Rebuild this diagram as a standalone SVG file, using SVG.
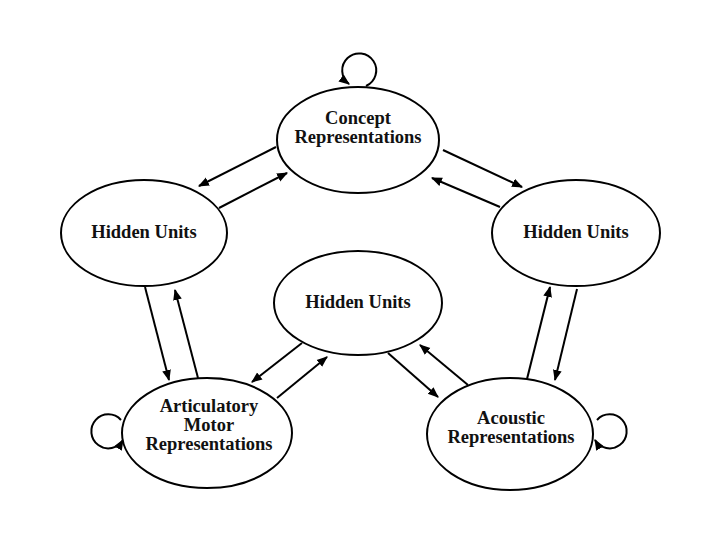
<svg xmlns="http://www.w3.org/2000/svg" width="720" height="540" viewBox="0 0 720 540">
<style>
.n{fill:#fff;stroke:#000;stroke-width:2}
.t{font-family:"Liberation Serif","Times New Roman",serif;font-weight:bold;font-size:18.5px;fill:#111;text-anchor:middle}
.c line,.c path{stroke:#000;stroke-width:2;fill:none;marker-end:url(#ah)}
</style>
<defs>
<marker id="ah" viewBox="0 0 10 10" refX="9" refY="5" markerWidth="5.5" markerHeight="5.5" orient="auto" markerUnits="strokeWidth">
<path d="M0,1 L10,5 L0,9 z" fill="#000"/>
</marker>
</defs>
<rect width="720" height="540" fill="#fff"/>
<g class="c" id="connectors">
<line x1="276" y1="147" x2="199" y2="186"/>
<line x1="219" y1="208" x2="287" y2="173"/>
<line x1="500" y1="207" x2="432" y2="178"/>
<line x1="443" y1="150" x2="522" y2="187"/>
<line x1="145" y1="287" x2="169" y2="380"/>
<line x1="198" y1="378" x2="175" y2="290"/>
<line x1="302" y1="343" x2="252" y2="382"/>
<line x1="277" y1="398" x2="327" y2="357"/>
<line x1="388" y1="353" x2="438" y2="397"/>
<line x1="468" y1="385" x2="420" y2="345"/>
<line x1="527" y1="379" x2="550" y2="287"/>
<line x1="577" y1="289" x2="555" y2="380"/>
<path d="M366,86 A17,17 0 1 0 349,84"/>
<path d="M121,420 A17,17 0 1 0 123,440"/>
<path d="M597,420 A17,17 0 1 1 595,440"/>
</g>
<g id="concept"><ellipse class="n" cx="358" cy="140" rx="81" ry="53"/><text class="t" x="358" y="124">Concept</text><text class="t" x="358" y="143">Representations</text></g>
<g id="hidden-left"><ellipse class="n" cx="144" cy="233" rx="83" ry="53"/><text class="t" x="144" y="238">Hidden Units</text></g>
<g id="hidden-right"><ellipse class="n" cx="576" cy="233" rx="84" ry="53"/><text class="t" x="576" y="238">Hidden Units</text></g>
<g id="hidden-mid"><ellipse class="n" cx="358" cy="303" rx="84" ry="52"/><text class="t" x="358" y="308">Hidden Units</text></g>
<g id="articulatory"><ellipse class="n" cx="207" cy="433" rx="85" ry="55"/><text class="t" x="209" y="412">Articulatory</text><text class="t" x="209" y="431">Motor</text><text class="t" x="209" y="450">Representations</text></g>
<g id="acoustic"><ellipse class="n" cx="510" cy="434" rx="83" ry="56"/><text class="t" x="511" y="424">Acoustic</text><text class="t" x="511" y="443">Representations</text></g>
</svg>
